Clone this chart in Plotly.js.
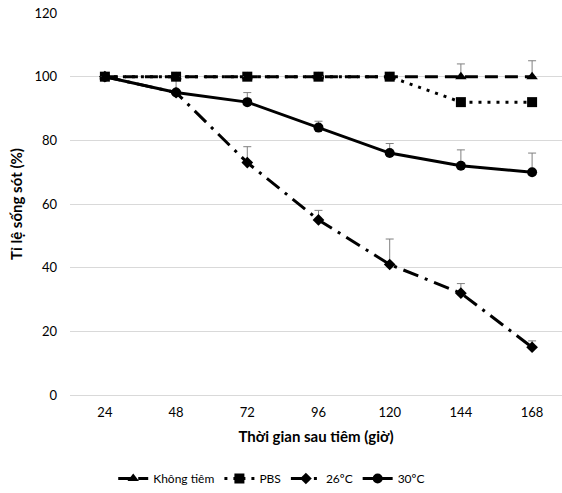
<!DOCTYPE html>
<html><head><meta charset="utf-8">
<script src="https://cdn.plot.ly/plotly-3.0.1.min.js"></script>
<style>html,body{margin:0;padding:0;background:#fff}</style>
</head><body><div id="chart" style="width:562px;height:493px"></div>
<script>
const hours = ["24","48","72","96","120","144","168"];
const khongTiem = [100,100,100,100,100,100,100];
const khongTiemErr = [0,0,0,0,0,4,5];
const pbs = [100,100,100,100,100,92,92];
const pbsErr = [0,0,0,0,0,0,0];
const t26 = [100,95,73,55,41,32,15];
const t26Err = [0,0,5,3,8,3,2];
const t30 = [100,95,92,84,76,72,70];
const t30Err = [0,4,3,2,3,5,6];
const names = ["Không tiêm","PBS","26ºC","30ºC"];

function err(a){return {type:'data',symmetric:false,array:a,arrayminus:a.map(()=>0),color:'#808080',thickness:1,width:4};}
const traces = [
 {x:hours,y:t26,name:names[2],mode:'lines+markers',line:{color:'#000',width:3,dash:'16px,7px,3px,7px'},marker:{symbol:'diamond',size:9,color:'#000'},error_y:err(t26Err)},
 {x:hours,y:t30,name:names[3],mode:'lines+markers',line:{color:'#000',width:3},marker:{symbol:'circle',size:10,color:'#000'},error_y:err(t30Err)},
 {x:hours,y:pbs,name:names[1],mode:'lines+markers',line:{color:'#000',width:3,dash:'3px,6px'},marker:{symbol:'square',size:10,color:'#000'},error_y:err(pbsErr)},
 {x:hours,y:khongTiem,name:names[0],mode:'lines+markers',line:{color:'#000',width:3,dash:'13px,7px'},marker:{symbol:'triangle-up',size:10,color:'#000'},error_y:err(khongTiemErr)}
];
traces[3].legendrank=1;traces[2].legendrank=2;traces[0].legendrank=3;traces[1].legendrank=4;
const layout = {
 width:562,height:493,
 margin:{l:70,r:0,t:13,b:96},
 paper_bgcolor:'#fff',plot_bgcolor:'#fff',
 font:{family:'Lato, "Open Sans", sans-serif',size:13,color:'#000'},
 showlegend:true,
 legend:{orientation:'h',x:0.41,xanchor:'center',y:-0.22,yanchor:'middle',traceorder:'normal',font:{size:12},itemwidth:30},
 xaxis:{type:'category',categoryorder:'array',categoryarray:hours,range:[-0.49,6.42],showgrid:false,zeroline:false,showline:false,ticks:'',ticklabelstandoff:8,
   title:{text:'<b>Thời gian sau tiêm (giờ)</b>',font:{size:15},standoff:12}},
 yaxis:{range:[0,120],dtick:20,showgrid:true,gridcolor:'#d9d9d9',gridwidth:1,zeroline:true,zerolinecolor:'#d9d9d9',zerolinewidth:1,showline:false,ticks:'',ticklabelstandoff:12,
   title:{text:'<b>Tỉ lệ sống sót (%)</b>',font:{size:15},standoff:8}}
};
Plotly.newPlot('chart',traces,layout,{displayModeBar:false,staticPlot:true});
</script></body></html>
